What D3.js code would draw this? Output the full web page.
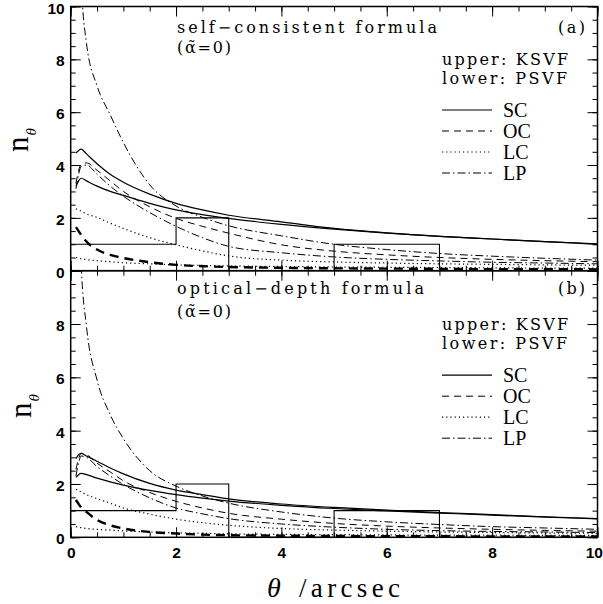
<!DOCTYPE html>
<html><head><meta charset="utf-8">
<script src="https://cdn.jsdelivr.net/npm/d3@7"></script>
<style>body{margin:0;background:#fff}svg{display:block}</style>
</head><body>
<svg id="chart" width="603" height="604"></svg>
<script>
// ---- data ----
const theta = [0.1, 0.15, 0.2, 0.3, 0.5, 0.75, 1, 1.5, 2, 2.5, 3, 4, 5, 6, 7, 8, 9, 10];
// panel (a): self-consistent formula
const a_SC_K = [4.45, 4.55, 4.6, 4.42, 4.05, 3.65, 3.35, 2.9, 2.55, 2.3, 2.1, 1.85, 1.6, 1.43, 1.3, 1.2, 1.1, 1.02];
const a_SC_P = [3.2, 3.4, 3.5, 3.4, 3.2, 3.0, 2.85, 2.55, 2.3, 2.12, 1.98, 1.75, 1.57, 1.42, 1.3, 1.2, 1.1, 1.0];
const a_OC_K = [3.3, 3.8, 4.02, 4.08, 3.8, 3.4, 3.0, 2.42, 1.98, 1.68, 1.42, 0.98, 0.74, 0.6, 0.5, 0.43, 0.38, 0.34];
const a_OC_P = [1.65, 1.5, 1.35, 1.1, 0.8, 0.6, 0.48, 0.32, 0.22, 0.17, 0.14, 0.11, 0.09, 0.08, 0.07, 0.06, 0.06, 0.05];
const a_LC_K = [2.34, 2.3, 2.25, 2.15, 2.02, 1.8, 1.6, 1.25, 0.98, 0.75, 0.56, 0.4, 0.33, 0.29, 0.26, 0.24, 0.22, 0.21];
const a_LC_P = [0.5, 0.48, 0.45, 0.42, 0.38, 0.34, 0.3, 0.26, 0.22, 0.2, 0.18, 0.16, 0.14, 0.13, 0.12, 0.11, 0.1, 0.1];
const a_LP_K = [18, 14, 11, 8.6, 7.0, 5.9, 4.85, 3.25, 2.45, 2.02, 1.7, 1.32, 1.0, 0.8, 0.65, 0.55, 0.47, 0.4];
const a_LP_P = [3.1, 3.65, 3.95, 4.0, 3.65, 3.2, 2.82, 2.2, 1.68, 1.25, 0.92, 0.68, 0.52, 0.43, 0.37, 0.32, 0.29, 0.26];
// panel (b): optical-depth formula
const b_SC_K = [2.95, 3.1, 3.15, 3.05, 2.85, 2.6, 2.38, 2.02, 1.77, 1.6, 1.44, 1.25, 1.12, 1.02, 0.93, 0.85, 0.77, 0.7];
const b_SC_P = [2.25, 2.35, 2.4, 2.35, 2.22, 2.08, 1.96, 1.76, 1.6, 1.47, 1.36, 1.2, 1.08, 0.99, 0.91, 0.83, 0.76, 0.69];
const b_OC_K = [2.55, 2.95, 3.15, 3.1, 2.78, 2.45, 2.12, 1.68, 1.35, 1.1, 0.9, 0.68, 0.52, 0.42, 0.35, 0.3, 0.26, 0.23];
const b_OC_P = [1.4, 1.25, 1.12, 0.95, 0.65, 0.45, 0.33, 0.2, 0.14, 0.1, 0.08, 0.06, 0.05, 0.04, 0.04, 0.03, 0.03, 0.03];
const b_LC_K = [1.8, 1.75, 1.7, 1.6, 1.45, 1.28, 1.1, 0.87, 0.68, 0.55, 0.45, 0.33, 0.27, 0.23, 0.2, 0.18, 0.16, 0.15];
const b_LC_P = [0.4, 0.38, 0.36, 0.33, 0.3, 0.27, 0.24, 0.2, 0.17, 0.15, 0.13, 0.11, 0.1, 0.09, 0.08, 0.08, 0.07, 0.07];
const b_LP_K = [16, 13, 10.2, 7.9, 5.9, 4.6, 3.7, 2.5, 1.92, 1.55, 1.28, 0.95, 0.72, 0.58, 0.48, 0.4, 0.35, 0.3];
const b_LP_P = [2.3, 2.8, 3.05, 3.0, 2.65, 2.3, 1.98, 1.48, 1.1, 0.88, 0.7, 0.5, 0.38, 0.3, 0.25, 0.22, 0.2, 0.18];
// observed histogram
const histEdges = [0, 2, 3, 5, 7, 10];
const histCounts = [1, 2, 0, 1, 0];
// ticks / labels
const xMajor = [0, 2, 4, 6, 8, 10];
const yMajor = [0, 2, 4, 6, 8, 10];
const legendLabels = ["SC", "OC", "LC", "LP"];

// ---- styles ----
const styles = {
  SC: {dash: null, w: 1.2},
  OC: {dash: "7,5", w: 1},
  OCthick: {dash: "9,6", w: 2.4},
  LC: {dash: "1.2,3", w: 1.2},
  LP: {dash: "8,3,1.5,3", w: 1}
};

const svg = d3.select("#chart");
svg.append("rect").attr("width", 603).attr("height", 604).attr("fill", "#fff");

const X0 = 70.7, X1 = 597.5;
const x = d3.scaleLinear().domain([0, 10]).range([X0, X1]);
const xMinor = d3.range(0, 10.01, 0.5);
const yMinor = d3.range(0, 10.01, 0.5);

const panels = [
  {id: "a", top: 6.5, bottom: 270.7, title: "self\u2212consistent formula", titleW: 260, letter: "(a)",
   curves: [["SC", a_SC_K], ["SC", a_SC_P], ["OC", a_OC_K], ["OCthick", a_OC_P], ["LC", a_LC_K], ["LC", a_LC_P], ["LP", a_LP_K], ["LP", a_LP_P]],
   labelsY: yMajor, labelsX: false, nx: 28, ny: 152, base: 5.5},
  {id: "b", top: 270.7, bottom: 537.3, title: "optical\u2212depth formula", titleW: 247, letter: "(b)",
   curves: [["SC", b_SC_K], ["SC", b_SC_P], ["OC", b_OC_K], ["OCthick", b_OC_P], ["LC", b_LC_K], ["LC", b_LC_P], ["LP", b_LP_K], ["LP", b_LP_P]],
   labelsY: yMajor.filter(d => d < 10), labelsX: true, nx: 31, ny: 418, base: 270.7}
];

panels.forEach(p => {
  const y = d3.scaleLinear().domain([0, 10]).range([p.bottom, p.top]);
  const g = svg.append("g");
  const clipId = "clip" + p.id;
  svg.append("clipPath").attr("id", clipId).append("rect")
    .attr("x", X0).attr("y", p.top).attr("width", X1 - X0).attr("height", p.bottom - p.top);

  const plot = g.append("g").attr("clip-path", `url(#${clipId})`);
  const line = d3.line().x(d => x(d[0])).y(d => y(d[1])).curve(d3.curveMonotoneX);
  p.curves.forEach(([st, vals]) => {
    const s = styles[st];
    plot.append("path").datum(theta.map((t, i) => [t, vals[i]]))
      .attr("d", line).attr("fill", "none").attr("stroke", "#000")
      .attr("stroke-width", s.w).attr("stroke-dasharray", s.dash);
  });
  // histogram
  const histPts = histEdges.map((e, i) => [e, i < histCounts.length ? histCounts[i] : 0]);
  plot.append("path").datum(histPts)
    .attr("d", d3.line().x(d => x(d[0])).y(d => y(d[1])).curve(d3.curveStepAfter))
    .attr("fill", "none").attr("stroke", "#000").attr("stroke-width", 1.1);

  // axes ticks
  const fontT = "font-family:'Liberation Sans',Arial,sans-serif;font-weight:bold;font-size:15.5px";
  const mk = (axis, tx, ty) => {
    const a = g.append("g").attr("transform", `translate(${tx},${ty})`).call(axis);
    a.select(".domain").remove();
    a.selectAll("line").attr("stroke", "#000").attr("stroke-width", 1);
    a.selectAll("text").attr("style", fontT).attr("fill", "#000");
    return a;
  };
  mk(d3.axisLeft(y).tickValues(yMinor).tickSize(-5).tickFormat(""), X0, 0);
  const ly = mk(d3.axisLeft(y).tickValues(yMajor).tickSize(-10).tickPadding(6)
      .tickFormat(d => p.labelsY.includes(d) ? d3.format("d")(d) : ""), X0, 0);
  ly.selectAll("text").attr("dy", "0.42em");
  mk(d3.axisRight(y).tickValues(yMinor).tickSize(-5).tickFormat(""), X1, 0);
  mk(d3.axisRight(y).tickValues(yMajor).tickSize(-10).tickFormat(""), X1, 0);
  mk(d3.axisTop(x).tickValues(xMinor).tickSize(-5).tickFormat(""), 0, p.top);
  mk(d3.axisTop(x).tickValues(xMajor).tickSize(-10).tickFormat(""), 0, p.top);
  mk(d3.axisBottom(x).tickValues(xMinor).tickSize(-5).tickFormat(""), 0, p.bottom);
  const bx = mk(d3.axisBottom(x).tickValues(xMajor).tickSize(-10).tickPadding(10)
      .tickFormat(d => p.labelsX ? d3.format("d")(d) : ""), 0, p.bottom);
  bx.selectAll("text").attr("dy", "0.71em");
  // last label kept inside the page edge
  bx.selectAll("text").filter(d => d === 10).attr("text-anchor", "end").attr("x", 5);

  // frame
  g.append("rect").attr("x", X0).attr("y", p.top).attr("width", X1 - X0).attr("height", p.bottom - p.top)
    .attr("fill", "none").attr("stroke", "#000").attr("stroke-width", 1.5);

  // annotations
  const off = p.base - 5.5;
  const serif = "'DejaVu Serif',serif";
  g.append("text").attr("x", 177).attr("y", 33 + (p.id === "b" ? -4.5 : 0) + off)
    .attr("font-family", serif).attr("font-size", 16).attr("textLength", p.titleW)
    .attr("lengthAdjust", "spacing").text(p.title);
  g.append("text").attr("x", 177).attr("y", 53 + (p.id === "b" ? -1 : 0) + off)
    .attr("font-family", serif).attr("font-size", 16).attr("textLength", 54)
    .attr("lengthAdjust", "spacing").text("(\u03B1\u0303=0)");
  g.append("text").attr("x", 558).attr("y", 33 + (p.id === "b" ? -4 : 0) + off)
    .attr("font-family", serif).attr("font-size", 16).attr("textLength", 27)
    .attr("lengthAdjust", "spacing").text(p.letter);
  g.append("text").attr("x", 442).attr("y", 65 + off)
    .attr("font-family", serif).attr("font-size", 16).attr("textLength", 126)
    .attr("lengthAdjust", "spacing").text("upper: KSVF");
  g.append("text").attr("x", 442).attr("y", 83.5 + off)
    .attr("font-family", serif).attr("font-size", 16).attr("textLength", 125)
    .attr("lengthAdjust", "spacing").text("lower: PSVF");

  // legend
  legendLabels.forEach((lab, i) => {
    const yy = 110 + i * 21 + off;
    const s = styles[lab];
    g.append("line").attr("x1", 442).attr("x2", 492).attr("y1", yy).attr("y2", yy)
      .attr("stroke", "#000").attr("stroke-width", s.w).attr("stroke-dasharray", s.dash);
    g.append("text").attr("x", 503).attr("y", yy + 7)
      .attr("font-family", "'Liberation Serif',serif").attr("font-size", 20).text(lab);
  });

  // y axis title n_theta
  const yt = g.append("text").attr("transform", `translate(${p.nx},${p.ny}) rotate(-90)`)
    .attr("font-family", "'Liberation Serif',serif");
  yt.append("tspan").attr("font-size", 31).text("n");
  yt.append("tspan").attr("font-size", 15).attr("font-style", "italic").attr("dy", 8).attr("dx", 1).text("\u03B8");
});

// x axis title
const xt = svg.append("text").attr("x", 267).attr("y", 597).attr("font-family", "'Liberation Serif',serif");
xt.append("tspan").attr("font-size", 28).attr("font-style", "italic").text("\u03B8");
svg.append("text").attr("x", 299).attr("y", 597).attr("font-family", "'Liberation Serif',serif")
  .attr("font-size", 27).attr("textLength", 101).attr("lengthAdjust", "spacing").text("/arcsec");
</script>
</body></html>
